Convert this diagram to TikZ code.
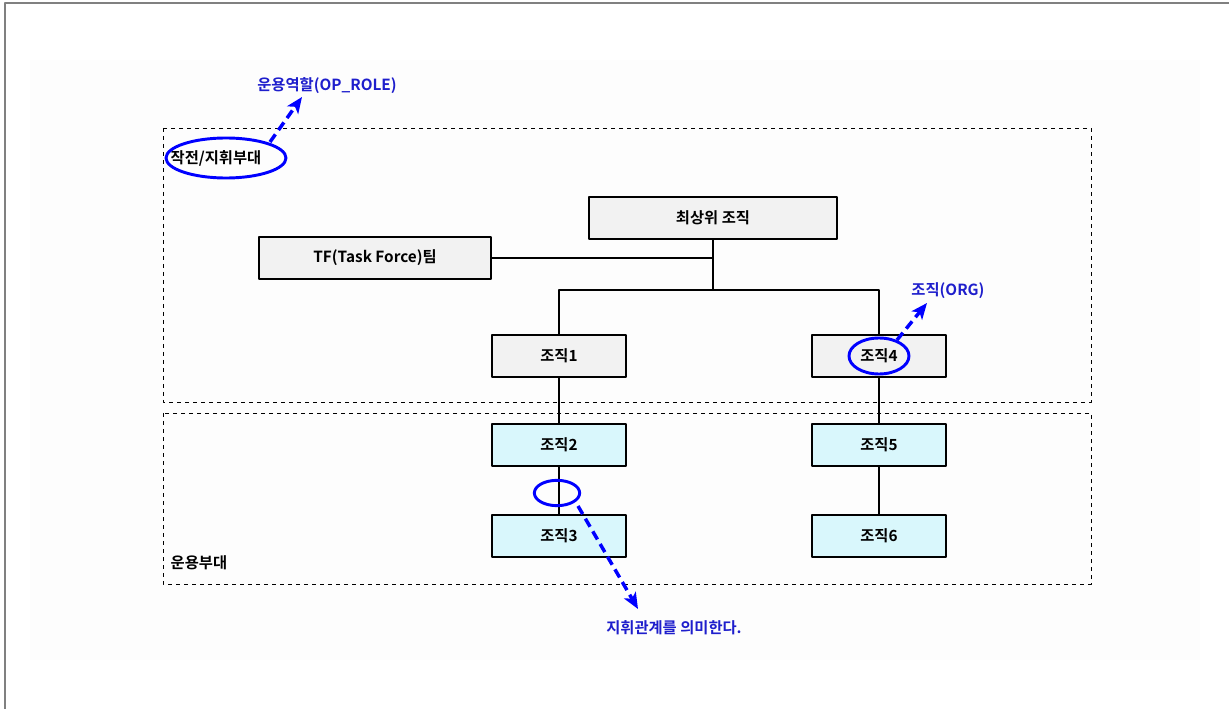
\documentclass[tikz,border=0pt]{standalone}
\usepackage{fontspec}
\usetikzlibrary{arrows.meta}
\setmainfont{Noto Sans CJK KR}[BoldFont={Noto Sans CJK KR Bold}]
\definecolor{orgcyan}{HTML}{D9F7FC}
\definecolor{orggray}{HTML}{F2F2F2}
\definecolor{notebl}{HTML}{1E1ECC}
\begin{document}
\begin{tikzpicture}[x=0.75pt, y=-0.75pt, font=\bfseries\fontsize{11.5}{13}\selectfont, line join=round, >=stealth,
    org/.style={draw, line width=1.4pt, fill=orggray, minimum width=101pt, minimum height=31.5pt, inner sep=0pt},
    orgc/.style={org, fill=orgcyan},
    unit/.style={draw, dashed, line width=0.6pt},
    link/.style={line width=1.4pt},
    ring/.style={draw=blue, line width=2.2pt},
    note/.style={notebl, font=\bfseries\fontsize{11.5}{13}\selectfont},
    pointer/.style={-{Stealth[length=12pt,width=10pt,inset=3pt]}, blue, line width=2.6pt, dash pattern=on 7pt off 4pt}]
  \useasboundingbox (0,0) rectangle (1229,709);
  \fill[black!0.6] (30,60) rectangle (1200,660);
  \draw[gray, line width=1.5pt] (5,709)--(5,3)--(1229,3); % outer frame
  % units
  \draw[unit] (163,128) rectangle (1091,402);
  \draw[unit] (163,413) rectangle (1091,584);
  \node[anchor=west] (cmdunit) at (166,158) {작전/지휘부대};
  \node[anchor=west] (opunit) at (166,563) {운용부대};
  % organisations
  \node[org, minimum width=186pt] (top) at (713,218) {최상위 조직};
  \node[org, minimum width=174pt] (tf) at (375,258) {TF(Task Force)팀};
  \node[org] (o1) at (559,356) {조직1};
  \node[org] (o4) at (879,356) {조직4};
  \node[orgc] (o2) at (559,445) {조직2};
  \node[orgc] (o3) at (559,536) {조직3};
  \node[orgc] (o5) at (879,445) {조직5};
  \node[orgc] (o6) at (879,536) {조직6};
  \coordinate (fork) at (713,290);
  \draw[link] (top.south)--(fork) (tf.east)--(top.south |- tf.east);
  \draw[link] (o1.north)|-(fork)-|(o4.north);
  \draw[link] (o1)--(o2) (o2)--(o3) (o4)--(o5) (o5)--(o6);
  % rings and notes
  \draw[ring] (226,158) ellipse (45pt and 15pt);
  \draw[ring] (o4.center) ellipse (22.5pt and 13.5pt);
  \draw[ring] (557,493) ellipse (17pt and 9.5pt);
  \node[note] (nrole) at (327,86) {운용역할(OP\_ROLE)};
  \node[note] (norg) at (948,291) {조직(ORG)};
  \node[note] (ncmd) at (674,628) {지휘관계를 의미한다.};
  \draw[pointer] (270,142)--(302,97);
  \draw[pointer] (897,340)--(927,303);
  \draw[pointer] (578,506)--(638,609);
\end{tikzpicture}
\end{document}
